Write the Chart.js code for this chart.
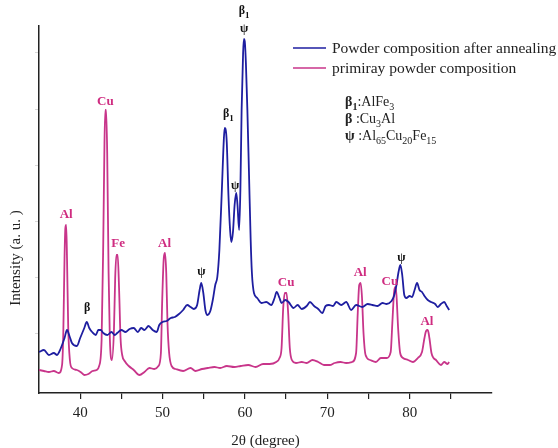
<!DOCTYPE html>
<html>
<head>
<meta charset="utf-8">
<script src="https://cdn.jsdelivr.net/npm/chart.js@4.4.0/dist/chart.umd.min.js"></script>
<style>
  html, body { margin: 0; padding: 0; background: #fff; }
  #wrap { width: 558px; height: 448px; position: relative; }
</style>
</head>
<body>
<div id="wrap"><canvas id="xrdChart"></canvas></div>
<script>
// ************** Data (2θ in degree, intensity in a. u.)
const seriesNames = ['Powder composition after annealing', 'primiray powder composition'];

const annealedAngle = [
    35.0, 35.6, 36.2, 36.8, 37.2, 37.45, 37.8, 38.1, 38.4, 38.7,
    39.0, 39.6, 40.0, 40.25, 40.5, 40.8, 41.1, 41.45, 41.9, 42.2,
    42.5, 42.8, 43.3, 43.8, 44.2, 44.5, 45.0, 45.5, 46.0, 46.5,
    47.0, 47.4, 47.8, 48.3, 48.8, 49.3, 49.6, 50.0, 50.5, 51.0,
    51.5, 52.0, 52.5, 53.0, 53.4, 53.8, 54.2, 54.5, 54.7, 54.95,
    55.2, 55.45, 55.8, 56.1, 56.4, 56.65, 56.9, 57.2, 57.45, 57.55,
    57.65, 57.8, 58.0, 58.2, 58.35, 58.55, 58.75, 58.95, 59.1, 59.3,
    59.45, 59.6, 59.78, 59.88, 59.98, 60.12, 60.3, 60.5, 60.7, 60.85,
    61.1, 61.5, 62.0, 62.6, 63.2, 63.6, 63.85, 64.2, 64.45, 64.9,
    65.3, 65.9, 66.4, 66.9, 67.5, 67.9, 68.4, 68.9, 69.4, 69.8,
    70.2, 70.7, 71.1, 71.7, 72.3, 72.9, 73.5, 74.25, 74.9, 75.5,
    76.1, 76.7, 77.2, 77.8, 78.1, 78.4, 78.65, 78.87, 79.1, 79.35,
    79.6, 80.0, 80.3, 80.6, 80.9, 81.2, 81.5, 81.8, 82.2, 82.6,
    83.1, 83.4, 83.8, 84.2, 84.5, 84.8
];
const annealedIntensity = [
    41, 43, 38, 40, 38, 41, 48, 55, 63, 57,
    50, 47, 55, 60, 65, 71, 65, 61, 58, 63,
    63, 60, 58, 61, 58, 60, 63, 61, 64, 65,
    61, 65, 63, 67, 63, 61, 68, 71, 72, 75,
    76, 79, 83, 88, 86, 84, 88, 103, 110, 100,
    83, 78, 82, 93, 108, 116, 143, 203, 255, 265,
    264, 250, 198, 163, 151, 161, 188, 200, 188, 163,
    203, 283, 340, 354, 352, 330, 283, 218, 153, 120,
    100, 95, 90, 91, 88, 95, 101, 95, 90, 93,
    91, 85, 88, 84, 87, 91, 87, 84, 80, 87,
    88, 87, 91, 88, 91, 83, 88, 86, 89, 88,
    87, 90, 89, 92, 97, 108, 121, 128, 118, 98,
    95, 97, 96, 103, 110, 103, 101, 97, 93, 91,
    89, 86, 89, 91, 87, 83
];

const primaryAngle = [
    35.0, 35.6, 36.2, 36.8, 37.4, 37.8, 37.95, 38.1, 38.2, 38.3,
    38.4, 38.55, 38.75, 39.0, 39.6, 40.2, 40.5, 41.0, 41.5, 42.0,
    42.3, 42.6, 42.8, 42.95, 43.05, 43.15, 43.28, 43.45, 43.6, 43.85,
    44.1, 44.25, 44.4, 44.55, 44.72, 44.9, 45.1, 45.4, 45.9, 46.5,
    47.2, 47.8, 48.4, 49.0, 49.5, 49.8, 49.95, 50.15, 50.3, 50.45,
    50.6, 50.8, 51.1, 51.6, 52.5, 53.4, 54.0, 54.8, 55.5, 56.3,
    57.0, 57.8, 58.7, 59.5, 60.4, 61.3, 62.2, 63.0, 63.8, 64.2,
    64.45, 64.65, 64.85, 65.05, 65.25, 65.45, 65.7, 66.2, 66.9, 67.5,
    68.2, 68.9, 69.6, 70.3, 70.9, 71.6, 72.3, 73.0, 73.5, 73.7,
    73.88, 74.05, 74.22, 74.4, 74.65, 75.2, 75.9, 76.5, 77.2, 77.7,
    77.9, 78.1, 78.25, 78.4, 78.6, 78.85, 79.2, 79.8, 80.4, 81.0,
    81.5, 81.8, 82.0, 82.2, 82.4, 82.65, 82.9, 83.2, 83.8, 84.2,
    84.6, 84.8
];
const primaryIntensity = [
    23, 22, 21, 22, 20, 28, 60, 135, 165, 168,
    135, 65, 33, 25, 23, 20, 18, 19, 22, 23,
    27, 53, 150, 250, 283, 283, 240, 120, 55, 33,
    63, 115, 138, 138, 105, 55, 38, 32, 27, 23,
    18, 21, 25, 24, 27, 40, 90, 135, 140, 120,
    70, 40, 27, 24, 22, 25, 22, 24, 25, 26,
    25, 27, 26, 27, 28, 26, 29, 29, 31, 35,
    45, 85, 100, 100, 80, 45, 33, 30, 31, 30,
    33, 31, 28, 28, 30, 31, 30, 31, 40, 80,
    108, 110, 95, 60, 38, 33, 31, 35, 35, 41,
    70, 100, 106, 98, 65, 40, 35, 33, 31, 35,
    41, 55, 62, 63, 55, 40, 35, 33, 28, 31,
    29, 31
];

const xTicks = [40, 45, 50, 55, 60, 65, 70, 75, 80, 85];
const yTicks = [60, 116, 172, 228, 284, 340];

// peak markers: text, 2θ, intensity, true = phase symbol (black), false = element (pink)
const labelText      = ['Al', 'β', 'Cu', 'Fe', 'Al', 'ψ', 'β1', 'ψ', 'β1', 'ψ', 'Cu', 'Al', 'Cu', 'ψ', 'Al'];
const labelAngle     = [38.3, 40.84, 43.05, 44.6, 50.25, 54.7, 58.0, 58.8, 59.9, 59.9, 65.0, 74.0, 77.6, 79.0, 82.1];
const labelIntensity = [180, 86, 293, 151, 151, 122, 280, 208, 383, 365, 112, 122, 113, 136, 73];
const labelPhase     = [false, true, false, false, false, true, true, true, true, true, false, false, false, true, false];

const blueColor = '#1e1ea0';
const pinkColor = '#c8358a';
const pinkText = '#cf2c80';
const serif = '"Liberation Serif", "Times New Roman", serif';

// draws a list of [text, subscript, bold] runs; align 'left' or 'center'
function drawRuns(ctx, runs, x, y, size, align, color) {
    const fontFor = (r) => `${r[2] ? 'bold ' : ''}${r[1] ? Math.round(size * 0.72) : size}px ${serif}`;
    let total = 0;
    runs.forEach(r => { ctx.font = fontFor(r); total += ctx.measureText(r[0]).width; });
    let cx = align === 'center' ? x - total / 2 : x;
    ctx.fillStyle = color;
    ctx.textAlign = 'left';
    ctx.textBaseline = 'alphabetic';
    runs.forEach(r => {
        ctx.font = fontFor(r);
        ctx.fillText(r[0], cx, r[1] ? y + size * 0.3 : y);
        cx += ctx.measureText(r[0]).width;
    });
}

const textPlugin = {
    id: 'xrdText',
    afterDraw(chart) {
        const { ctx } = chart;
        const xs = chart.scales.x, ys = chart.scales.y;
        ctx.save();

        // ************** peak labels
        labelText.forEach((t, i) => {
            const px = xs.getPixelForValue(labelAngle[i]);
            const py = ys.getPixelForValue(labelIntensity[i]);
            const color = labelPhase[i] ? '#111' : pinkText;
            const size = labelPhase[i] ? 12 : 13;
            let runs = [[t, false, true]];
            if (t === 'β1') runs = [['β', false, true], ['1', true, true]];
            drawRuns(ctx, runs, px, py + size * 0.35, size, 'center', color);
        });

        // ************** legend
        const legendY = [48, 68];
        [blueColor, pinkColor].forEach((c, i) => {
            ctx.strokeStyle = c;
            ctx.lineWidth = 1.6;
            ctx.beginPath();
            ctx.moveTo(293, legendY[i]);
            ctx.lineTo(326, legendY[i]);
            ctx.stroke();
            ctx.fillStyle = '#222';
            ctx.font = `15.5px ${serif}`;
            ctx.textAlign = 'left';
            ctx.textBaseline = 'middle';
            ctx.fillText(seriesNames[i], 332, legendY[i] + 1);
        });

        // ************** phase key
        drawRuns(ctx, [['β', false, true], ['1', true, true], [':AlFe', false, false], ['3', true, false]], 345, 106, 14, 'left', '#222');
        drawRuns(ctx, [['β', false, true], [' :Cu', false, false], ['3', true, false], ['Al', false, false]], 345, 123, 14, 'left', '#222');
        drawRuns(ctx, [['ψ', false, true], [' :Al', false, false], ['65', true, false], ['Cu', false, false], ['20', true, false], ['Fe', false, false], ['15', true, false]], 345, 140, 14, 'left', '#222');

        // ************** y axis title
        ctx.translate(16, 258);
        ctx.rotate(-Math.PI / 2);
        ctx.fillStyle = '#222';
        ctx.font = `15px ${serif}`;
        ctx.textAlign = 'center';
        ctx.textBaseline = 'middle';
        ctx.fillText('Intensity (a. u. )', 0, 0);
        ctx.restore();
    }
};

const ctx = document.getElementById('xrdChart').getContext('2d');
const xrdChart = new Chart(ctx, {
    type: 'line',
    data: {
        datasets: [{
            label: seriesNames[0],
            data: annealedAngle.map((a, i) => ({ x: a, y: annealedIntensity[i] })),
            borderColor: blueColor,
            borderWidth: 1.8,
            pointRadius: 0,
            cubicInterpolationMode: 'monotone',
            fill: false,
        }, {
            label: seriesNames[1],
            data: primaryAngle.map((a, i) => ({ x: a, y: primaryIntensity[i] })),
            borderColor: pinkColor,
            borderWidth: 1.8,
            pointRadius: 0,
            cubicInterpolationMode: 'monotone',
            fill: false,
        }]
    },
    options: {
        responsive: true,
        maintainAspectRatio: false,
        animation: false,
        devicePixelRatio: 1,
        layout: { padding: { left: 35, right: 66, top: 26, bottom: -1 } },
        plugins: {
            legend: { display: false },
            tooltip: { enabled: false },
        },
        scales: {
            x: {
                type: 'linear',
                min: 35,
                max: 90,
                afterBuildTicks: (scale) => { scale.ticks = xTicks.map(v => ({ value: v })); },
                ticks: {
                    callback: (v) => (v % 10 === 0 ? v : ''),
                    font: { family: serif, size: 15, lineHeight: 1 },
                    color: '#222',
                    maxRotation: 0,
                    autoSkip: false,
                    padding: 7,
                },
                grid: { drawOnChartArea: false, drawTicks: true, tickLength: 6, color: '#222', lineWidth: 1.2 },
                border: { display: true, color: '#222', width: 1.5 },
                title: {
                    display: true,
                    text: '2θ (degree)',
                    font: { family: serif, size: 15, lineHeight: 1 },
                    color: '#222',
                    padding: { top: 6, bottom: 0 },
                },
            },
            y: {
                min: 0,
                max: 367,
                afterBuildTicks: (scale) => { scale.ticks = yTicks.map(v => ({ value: v })); },
                ticks: { display: false },
                grid: { drawOnChartArea: false, drawTicks: true, tickLength: 4, color: '#d8d8d8', lineWidth: 1 },
                border: { display: true, color: '#222', width: 1.5 },
            }
        }
    },
    plugins: [textPlugin]
});
</script>
</body>
</html>
